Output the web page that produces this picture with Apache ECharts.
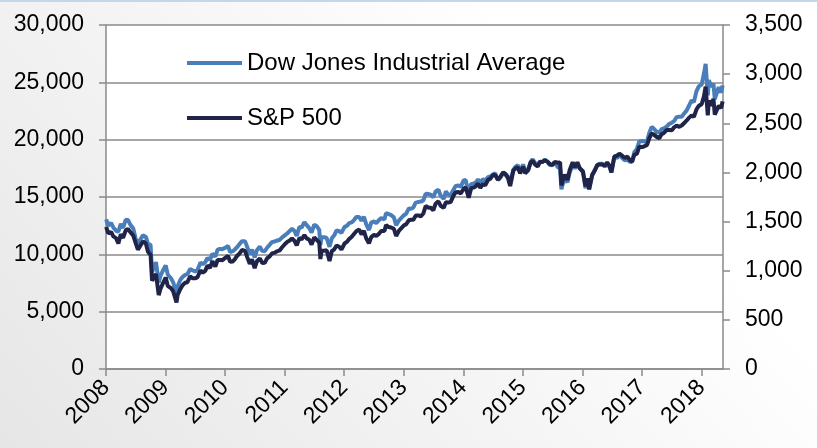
<!DOCTYPE html>
<html><head><meta charset="utf-8">
<script src="https://cdn.jsdelivr.net/npm/echarts@6/dist/echarts.min.js"></script>
<style>html,body{margin:0;padding:0;background:#fff}#c{width:817px;height:448px}</style>
</head><body><div id="c"></div>
<script>
// Semi-monthly sample dates
const dates = [
 '2008-01-02','2008-01-15','2008-02-01','2008-02-15','2008-03-03','2008-03-17','2008-04-01','2008-04-15','2008-05-01','2008-05-15','2008-06-02','2008-06-16','2008-07-01','2008-07-15','2008-08-01','2008-08-15','2008-09-02','2008-09-15','2008-10-01','2008-10-10','2008-10-15','2008-11-03','2008-11-20','2008-12-01','2008-12-15',
 '2009-01-02','2009-01-15','2009-02-02','2009-02-17','2009-03-09','2009-03-16','2009-04-01','2009-04-15','2009-05-01','2009-05-15','2009-06-01','2009-06-15','2009-07-01','2009-07-15','2009-08-03','2009-08-17','2009-09-01','2009-09-15','2009-10-01','2009-10-15','2009-11-02','2009-11-16','2009-12-01','2009-12-15',
 '2010-01-04','2010-01-19','2010-02-01','2010-02-16','2010-03-01','2010-03-15','2010-04-01','2010-04-15','2010-05-03','2010-05-17','2010-06-01','2010-06-15','2010-07-01','2010-07-15','2010-08-02','2010-08-16','2010-09-01','2010-09-15','2010-10-01','2010-10-15','2010-11-01','2010-11-15','2010-12-01','2010-12-15',
 '2011-01-03','2011-01-18','2011-02-01','2011-02-15','2011-03-01','2011-03-16','2011-04-01','2011-04-15','2011-05-02','2011-05-16','2011-06-01','2011-06-15','2011-07-01','2011-07-15','2011-08-01','2011-08-08','2011-08-15','2011-09-01','2011-09-15','2011-10-03','2011-10-17','2011-11-01','2011-11-15','2011-12-01','2011-12-15',
 '2012-01-03','2012-01-17','2012-02-01','2012-02-15','2012-03-01','2012-03-15','2012-04-02','2012-04-16','2012-05-01','2012-05-15','2012-06-01','2012-06-15','2012-07-02','2012-07-16','2012-08-01','2012-08-15','2012-09-04','2012-09-14','2012-10-01','2012-10-15','2012-11-01','2012-11-15','2012-12-03','2012-12-14',
 '2013-01-02','2013-01-15','2013-02-01','2013-02-15','2013-03-01','2013-03-15','2013-04-01','2013-04-15','2013-05-01','2013-05-15','2013-06-03','2013-06-17','2013-07-01','2013-07-15','2013-08-01','2013-08-15','2013-09-03','2013-09-16','2013-10-01','2013-10-15','2013-11-01','2013-11-15','2013-12-02','2013-12-16',
 '2014-01-02','2014-01-15','2014-02-03','2014-02-18','2014-03-03','2014-03-17','2014-04-01','2014-04-15','2014-05-01','2014-05-15','2014-06-02','2014-06-16','2014-07-01','2014-07-15','2014-08-01','2014-08-15','2014-09-02','2014-09-15','2014-10-01','2014-10-15','2014-11-03','2014-11-17','2014-12-01','2014-12-15',
 '2015-01-02','2015-01-15','2015-02-02','2015-02-17','2015-03-02','2015-03-16','2015-04-01','2015-04-15','2015-05-01','2015-05-15','2015-06-01','2015-06-15','2015-07-01','2015-07-15','2015-08-03','2015-08-17','2015-08-25','2015-09-01','2015-09-15','2015-10-01','2015-10-15','2015-11-02','2015-11-16','2015-12-01','2015-12-15',
 '2016-01-04','2016-01-20','2016-02-01','2016-02-11','2016-03-01','2016-03-15','2016-04-01','2016-04-15','2016-05-02','2016-05-16','2016-06-01','2016-06-15','2016-06-27','2016-07-15','2016-08-01','2016-08-15','2016-09-01','2016-09-15','2016-10-03','2016-10-17','2016-11-01','2016-11-15','2016-12-01','2016-12-15',
 '2017-01-03','2017-01-17','2017-02-01','2017-02-15','2017-03-01','2017-03-15','2017-04-03','2017-04-17','2017-05-01','2017-05-15','2017-06-01','2017-06-15','2017-07-03','2017-07-17','2017-08-01','2017-08-15','2017-09-01','2017-09-15','2017-10-02','2017-10-16','2017-11-01','2017-11-15','2017-12-01','2017-12-15',
 '2018-01-02','2018-01-16','2018-01-26','2018-02-08','2018-02-15','2018-03-01','2018-03-15','2018-03-23','2018-04-02','2018-04-16','2018-05-01','2018-05-10'
];
const dow = [
 13044,12501,12743,12348,12050,11972,12654,12302,13010,12992,12503,12269,11382,10963,11326,11659,11516,10917,10831,8451,8578,9319,7552,8149,8565,
 9034,8212,7936,7553,6547,7217,7761,8029,8212,8268,8721,8612,8504,8616,9286,9135,9310,9683,9509,10062,9789,10406,10471,10452,
 10583,10725,10185,10268,10403,10624,10927,11144,11151,10625,10024,10404,9732,10359,10674,10302,10269,10572,10830,11062,11124,11201,11255,11457,
 11670,11837,12040,12226,12058,11613,12376,12341,12807,12548,12290,11897,12582,12479,12132,10810,11482,11494,11433,10655,11397,11657,12096,12020,11868,
 12397,12482,12716,12780,12980,13253,13264,12921,13279,12632,12119,12767,12871,12727,12976,13164,13035,13593,13515,13424,13232,12543,12966,13135,
 13412,13534,14009,13981,14089,14514,14572,14599,14700,15275,15254,15179,14974,15484,15628,15112,14833,15494,15191,15168,15615,15961,16008,15884,
 16441,16482,15372,16130,16168,16247,16532,16262,16558,16447,16743,16781,16956,17060,16493,16662,17067,17031,16804,16142,17366,17648,17776,17180,
 17833,17320,17361,18047,18288,17977,17698,18113,18024,18272,18040,17791,17757,18050,17598,17545,15666,16058,16600,16272,17141,17828,17483,17888,17524,
 17149,15766,16449,15660,16865,17251,17792,17897,17891,17710,17789,17640,17140,18516,18404,18636,18419,18212,18253,18086,18037,18923,19191,19852,
 19882,19826,19891,20611,21115,20950,20650,20636,20913,20982,21144,21360,21479,21630,21964,21998,21988,22268,22557,22957,23435,23271,24231,24651,
 24824,25792,26616,23860,25200,24609,24873,23533,23644,24573,24100,24739
];
const sp = [
 1447,1380,1395,1349,1331,1277,1370,1335,1409,1424,1385,1360,1284,1215,1260,1298,1277,1193,1161,899,907,966,752,816,868,
 931,843,825,789,677,753,811,852,877,883,942,923,923,932,1002,979,998,1052,1029,1096,1042,1109,1108,1107,
 1133,1150,1090,1094,1115,1150,1178,1211,1202,1136,1070,1115,1027,1096,1125,1079,1080,1126,1146,1176,1184,1197,1206,1236,
 1272,1295,1307,1328,1306,1257,1332,1320,1361,1329,1315,1265,1339,1316,1287,1119,1204,1204,1209,1099,1200,1218,1257,1244,1215,
 1277,1293,1324,1343,1374,1402,1419,1369,1405,1330,1278,1342,1365,1353,1375,1405,1404,1465,1444,1440,1427,1353,1409,1413,
 1462,1472,1513,1519,1518,1561,1562,1553,1582,1658,1640,1640,1614,1682,1706,1661,1640,1697,1695,1698,1762,1798,1800,1786,
 1832,1848,1742,1840,1845,1858,1886,1843,1883,1870,1925,1937,1973,1973,1925,1955,2002,1984,1946,1862,2017,2041,2053,1990,
 2058,1992,2021,2100,2117,2081,2060,2106,2108,2123,2111,2084,2077,2107,2098,2102,1868,1914,1978,1923,2024,2104,2053,2103,2043,
 2012,1859,1940,1829,1978,2016,2073,2081,2081,2066,2100,2071,2001,2162,2171,2191,2171,2147,2161,2127,2111,2180,2191,2262,
 2258,2268,2280,2349,2396,2385,2359,2349,2388,2402,2431,2432,2429,2459,2476,2464,2477,2500,2529,2557,2579,2565,2642,2676,
 2696,2776,2873,2581,2732,2678,2748,2588,2582,2678,2655,2723
];
const yearTicks = [2008,2009,2010,2011,2012,2013,2014,2015,2016,2017,2018];
const leftTicks = [0,5000,10000,15000,20000,25000,30000];
const rightTicks = [0,500,1000,1500,2000,2500,3000,3500];
const seriesNames = ['Dow Jones Industrial Average','S&P 500'];

function toYear(s){
  const [y,m,d] = s.split('-').map(Number);
  const t = Date.UTC(y,m-1,d), a = Date.UTC(y,0,1), b = Date.UTC(y+1,0,1);
  return y + (t-a)/(b-a);
}
const xs = dates.map(toYear);
const fmt = v => v.toLocaleString('en-US');
const FONT = "'Liberation Sans', Arial, sans-serif";
const GRAY = '#8a8a8a';

const chart = echarts.init(document.getElementById('c'), null, {renderer:'canvas'});
chart.setOption({
  animation:false,
  backgroundColor:{type:'linear',x:0,y:1,x2:0.6,y2:0,colorStops:[{offset:0,color:'#e6e6e6'},{offset:1,color:'#ffffff'}]},
  textStyle:{fontFamily:FONT},
  graphic:[{type:'rect',left:0,top:0,shape:{width:817,height:2},style:{fill:'#c6d6ea'}}],
  grid:{left:106,right:94,top:25,bottom:79,show:true,backgroundColor:'#ffffff',borderWidth:0,outerBoundsMode:'none'},
  legend:{
    orient:'vertical',left:182,top:46,itemGap:31,itemWidth:55,itemHeight:4,icon:'rect',
    textStyle:{fontFamily:FONT,fontSize:24,color:'#000'},
    data:seriesNames
  },
  xAxis:{
    type:'value',min:2008,max:2018.36,
    axisLine:{lineStyle:{color:GRAY,width:1.5}},
    axisTick:{length:7,lineStyle:{color:GRAY,width:1.5},customValues:yearTicks},
    axisLabel:{customValues:yearTicks,rotate:45,margin:15,fontSize:23,color:'#000',fontFamily:FONT,formatter:v=>String(Math.round(v))},
    splitLine:{show:false}
  },
  yAxis:[{
    type:'value',min:0,max:30000,interval:5000,position:'left',
    axisLine:{show:true,lineStyle:{color:GRAY,width:1.5}},
    axisTick:{show:true,length:7,lineStyle:{color:GRAY,width:1.5}},
    axisLabel:{margin:22,fontSize:23,color:'#000',fontFamily:FONT,formatter:fmt},
    splitLine:{show:true,lineStyle:{color:GRAY,width:1.5}}
  },{
    type:'value',min:0,max:3500,interval:500,position:'right',
    axisLine:{show:true,lineStyle:{color:GRAY,width:1.5}},
    axisTick:{show:true,length:7,lineStyle:{color:GRAY,width:1.5}},
    axisLabel:{margin:22,fontSize:23,color:'#000',fontFamily:FONT,formatter:fmt},
    splitLine:{show:false}
  }],
  series:[{
    name:seriesNames[0],type:'line',yAxisIndex:0,showSymbol:false,symbol:'none',
    lineStyle:{color:'#4a7ebb',width:4},itemStyle:{color:'#4a7ebb'},
    data:xs.map((x,i)=>[x,dow[i]])
  },{
    name:seriesNames[1],type:'line',yAxisIndex:1,showSymbol:false,symbol:'none',
    lineStyle:{color:'#1f2448',width:4},itemStyle:{color:'#1f2448'},
    data:xs.map((x,i)=>[x,sp[i]])
  }]
});
</script></body></html>
